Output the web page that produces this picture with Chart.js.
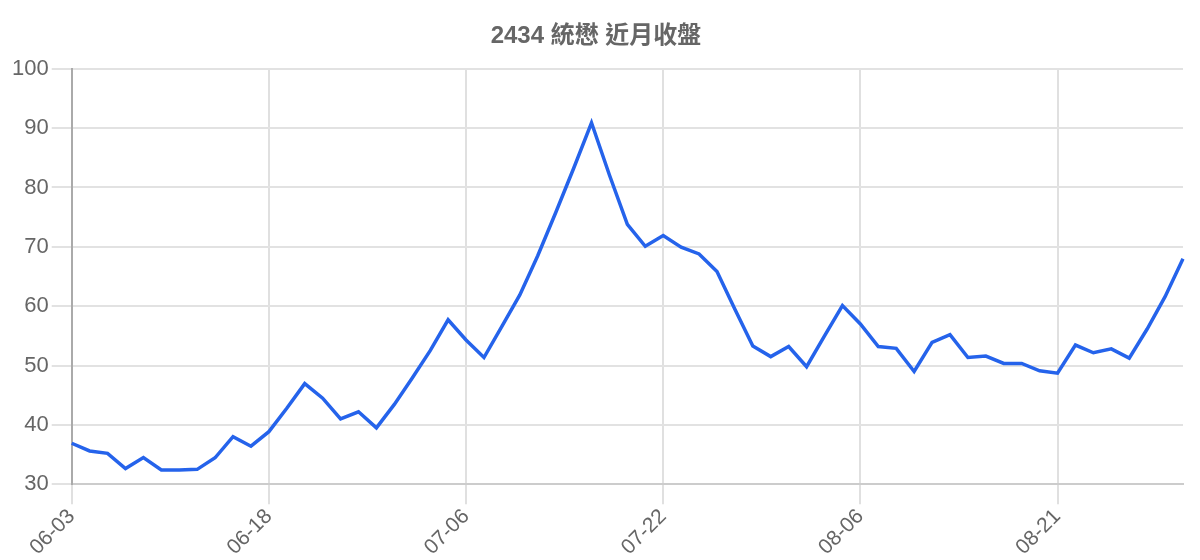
<!DOCTYPE html>
<html>
<head>
<meta charset="utf-8">
<title>2434 統懋 近月收盤</title>
<script src="https://cdn.jsdelivr.net/npm/chart.js@4/dist/chart.umd.min.js"></script>
<style>
  body { margin: 0; background: #fff; }
  #wrap { width: 1200px; height: 560px; }
</style>
</head>
<body>
<div id="wrap"><canvas id="closeChart"></canvas></div>
<script>
// Dates and closing prices
const dates = [
  "06-03", "06-04", "06-05", "06-06", "06-07", "06-10", "06-11", "06-12", "06-13", "06-14", "06-17",
  "06-18", "06-19", "06-20", "06-21", "06-24", "06-25", "06-26", "06-27", "06-28", "07-02", "07-03",
  "07-06", "07-07", "07-08", "07-09", "07-10", "07-13", "07-14", "07-15", "07-16", "07-17", "07-20",
  "07-22", "07-23", "07-24", "07-27", "07-28", "07-29", "07-30", "07-31", "08-03", "08-04", "08-05",
  "08-06", "08-07", "08-10", "08-11", "08-12", "08-13", "08-14", "08-17", "08-18", "08-19", "08-20",
  "08-21", "08-24", "08-25", "08-26", "08-27", "08-28", "08-31", "09-01",
];
const closes = [
  36.9, 35.6, 35.2, 32.65, 34.5, 32.4, 32.4, 32.5, 34.45, 38.0, 36.4,
  38.85, 42.8, 46.95, 44.5, 41.0, 42.2, 39.5, 43.45, 47.9, 52.5, 57.7,
  54.3, 51.35, 56.6, 61.9, 68.5, 75.75, 83.2, 90.9, 82.1, 73.8, 70.1,
  71.9, 69.95, 68.8, 65.85, 59.5, 53.3, 51.5, 53.2, 49.8, 55.0, 60.1,
  57.0, 53.2, 52.9, 49.0, 53.9, 55.2, 51.35, 51.6, 50.35, 50.35, 49.1,
  48.7, 53.45, 52.15, 52.8, 51.25, 56.15, 61.6, 68.0,
];
const yTicks = [30, 100, 10]; // min, max, step
const labelEvery = 11; // a date label every 11 trading days

Chart.defaults.font.family = "'Liberation Sans', Arial, 'Noto Sans CJK TC', sans-serif";
Chart.defaults.color = "#666";

const ctx = document.getElementById("closeChart").getContext("2d");
new Chart(ctx, {
  type: "line",
  data: {
    labels: dates,
    datasets: [
      {
        label: "收盤",
        data: closes,
        borderColor: "#2563eb",
        backgroundColor: "#2563eb",
        borderWidth: 3.5,
        pointRadius: 0,
        tension: 0,
        fill: false,
      },
    ],
  },
  options: {
    responsive: true,
    maintainAspectRatio: false,
    animation: false,
    layout: {
      padding: { top: 20, left: 9, right: 17, bottom: 0 },
    },
    plugins: {
      legend: { display: false },
      tooltip: { enabled: false },
      title: {
        display: true,
        text: "2434 統懋 近月收盤",
        color: "#666",
        font: { size: 24, weight: "bold" },
        padding: { top: 2, bottom: 18 },
      },
    },
    scales: {
      x: {
        grid: { color: "#e0e0e0", lineWidth: 2, tickLength: 20 },
        border: { color: "#ccc", width: 2 },
        ticks: {
          autoSkip: false,
          maxRotation: 45,
          minRotation: 45,
          padding: 0,
          color: "#666",
          font: { size: 21 },
          // only every 11th date gets a label (and a grid line)
          callback: function (value, index) {
            return index % labelEvery === 0 ? dates[index] : null;
          },
        },
      },
      y: {
        min: yTicks[0],
        max: yTicks[1],
        grid: { color: "#e2e2e2", lineWidth: 2, tickLength: 20 },
        border: { color: "#aaa", width: 2 },
        ticks: {
          stepSize: yTicks[2],
          color: "#666",
          font: { size: 22 },
        },
      },
    },
  },
});
</script>
</body>
</html>
